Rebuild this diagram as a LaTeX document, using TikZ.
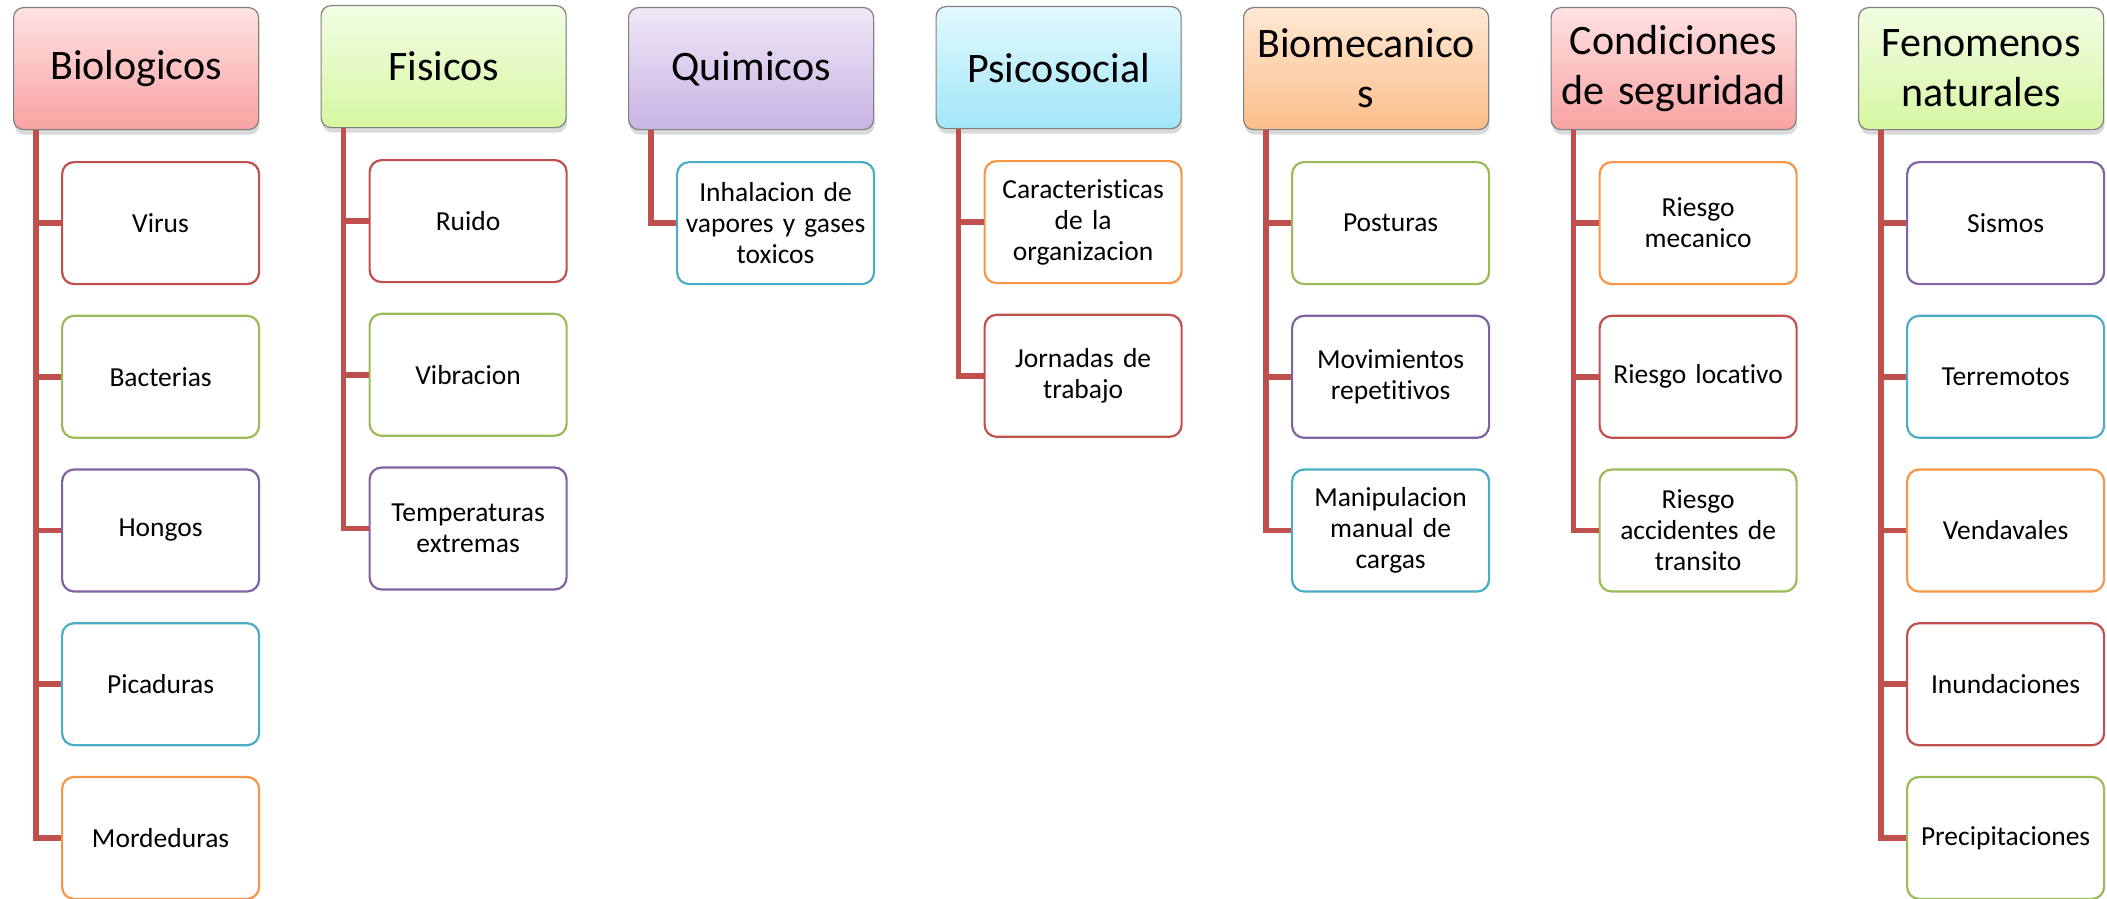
\documentclass[tikz,border=0pt]{standalone}
\usepackage{fontspec}
\setmainfont{Carlito}[Ligatures=NoCommon]
\usetikzlibrary{shadows,calc}
\definecolor{aRed}{HTML}{C0504D}
\definecolor{aGreen}{HTML}{9BBB59}
\definecolor{aPurple}{HTML}{8064A2}
\definecolor{aAqua}{HTML}{4BACC6}
\definecolor{aOrange}{HTML}{F79646}
\definecolor{redTop}{HTML}{FFE2E2}
\definecolor{redBot}{HTML}{F8A2A2}
\definecolor{greenTop}{HTML}{F2FDE4}
\definecolor{greenBot}{HTML}{D6F7A2}
\definecolor{purpleTop}{HTML}{EFE8F7}
\definecolor{purpleBot}{HTML}{C8B3E4}
\definecolor{aquaTop}{HTML}{E2F9FE}
\definecolor{aquaBot}{HTML}{A2E6F8}
\definecolor{orangeTop}{HTML}{FFE8D4}
\definecolor{orangeBot}{HTML}{FBBE8A}
\begin{document}
\begin{tikzpicture}[x=1pt,y=-1pt,
  hdr/.style={draw=black!50, line width=1.2pt, rounded corners=10pt,
    minimum width=245pt, minimum height=122pt, text width=240pt, inner sep=0pt,
    anchor=north west, align=center, font=\fontsize{42}{50}\selectfont,
    drop shadow={shadow xshift=1pt, shadow yshift=-5pt, opacity=0.3}},
  hred/.style={hdr, top color=redTop, bottom color=redBot},
  hgreen/.style={hdr, top color=greenTop, bottom color=greenBot},
  hpurple/.style={hdr, top color=purpleTop, bottom color=purpleBot},
  haqua/.style={hdr, top color=aquaTop, bottom color=aquaBot},
  horange/.style={hdr, top color=orangeTop, bottom color=orangeBot},
  child/.style={draw=#1, fill=white, line width=2.2pt, rounded corners=12pt,
    minimum width=197pt, minimum height=122pt, text width=192pt, inner sep=0pt,
    anchor=north west, align=center, font=\fontsize{27.5}{31}\selectfont},
  conn/.style={draw=aRed, line width=5.5pt, line join=miter}
]
\useasboundingbox (0,0) rectangle (2107,899);

% headers
\node[hred]    (h1) at (13,7)     {Biologicos};
\node[hgreen]  (h2) at (320.5,5)  {Fisicos};
\node[hpurple] (h3) at (628,7)    {Quimicos};
\node[haqua]   (h4) at (935.5,6)  {Psicosocial};
\node[horange] (h5) at (1243,7)   {Biomecanico\\s};
\node[hred]    (h6) at (1550.5,7) {Condiciones\\de seguridad};
\node[hgreen]  (h7) at (1858,7)   {Fenomenos\\naturales};

% Biologicos
\node[child=aRed]    (c1a) at (61,161)   {Virus};
\node[child=aGreen]  (c1b) at (61,314.7) {Bacterias};
\node[child=aPurple] (c1c) at (61,468.4) {Hongos};
\node[child=aAqua]   (c1d) at (61,622.1) {Picaduras};
\node[child=aOrange] (c1e) at (61,775.8) {Mordeduras};
% Fisicos
\node[child=aRed]    (c2a) at (368.5,159)   {Ruido};
\node[child=aGreen]  (c2b) at (368.5,312.7) {Vibracion};
\node[child=aPurple] (c2c) at (368.5,466.4) {Temperaturas\\extremas};
% Quimicos
\node[child=aAqua]   (c3a) at (676,161) {Inhalacion de\\vapores y gases\\toxicos};
% Psicosocial
\node[child=aOrange] (c4a) at (983.5,160)   {Caracteristicas\\de la\\organizacion};
\node[child=aRed]    (c4b) at (983.5,313.7) {Jornadas de\\trabajo};
% Biomecanicos
\node[child=aGreen]  (c5a) at (1291,161)   {Posturas};
\node[child=aPurple] (c5b) at (1291,314.7) {Movimientos\\repetitivos};
\node[child=aAqua]   (c5c) at (1291,468.4) {Manipulacion\\manual de\\cargas};
% Condiciones
\node[child=aOrange] (c6a) at (1598.5,161)   {Riesgo\\mecanico};
\node[child=aRed]    (c6b) at (1598.5,314.7) {Riesgo locativo};
\node[child=aGreen]  (c6c) at (1598.5,468.4) {Riesgo\\accidentes de\\transito};
% Fenomenos
\node[child=aPurple] (c7a) at (1906,161)   {Sismos};
\node[child=aAqua]   (c7b) at (1906,314.7) {Terremotos};
\node[child=aOrange] (c7c) at (1906,468.4) {Vendavales};
\node[child=aRed]    (c7d) at (1906,622.1) {Inundaciones};
\node[child=aGreen]  (c7e) at (1906,775.8) {Precipitaciones};

% connector origins
\foreach \h in {1,...,7}{
  \coordinate (s\h) at ($(h\h.south west)+(23,0)$);
}
\foreach \c in {a,b,c,d,e}{\draw[conn] (s1) |- (c1\c.west);}
\foreach \c in {a,b,c}{\draw[conn] (s2) |- (c2\c.west);}
\draw[conn] (s3) |- (c3a.west);
\foreach \c in {a,b}{\draw[conn] (s4) |- (c4\c.west);}
\foreach \c in {a,b,c}{\draw[conn] (s5) |- (c5\c.west);}
\foreach \c in {a,b,c}{\draw[conn] (s6) |- (c6\c.west);}
\foreach \c in {a,b,c,d,e}{\draw[conn] (s7) |- (c7\c.west);}
\end{tikzpicture}
\end{document}
